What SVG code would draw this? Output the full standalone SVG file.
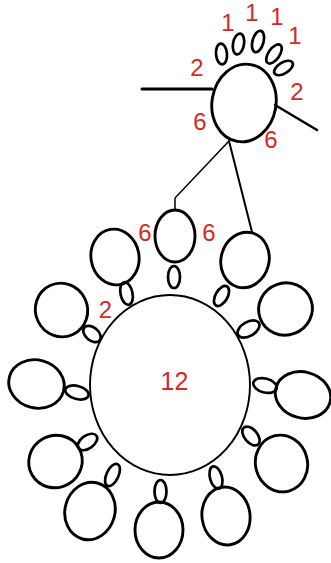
<svg xmlns="http://www.w3.org/2000/svg" width="331" height="563" viewBox="0 0 331 563">
<style>
.r{fill:none;stroke:#000;stroke-width:2.9}
.p{fill:none;stroke:#000;stroke-width:2.7}
.big{fill:none;stroke:#000;stroke-width:1.9}
.t{font-family:"Liberation Sans",Arial,sans-serif;font-size:24px;fill:#d42a22;text-anchor:middle}
.l{stroke:#000;fill:none;stroke-linecap:round}
</style>
<rect width="331" height="563" fill="#fff"/>
<g id="connectors">
<line class="l" x1="142" y1="89" x2="212" y2="89" stroke-width="3"/>
<line class="l" x1="275" y1="105" x2="317" y2="130" stroke-width="2.5"/>
<polyline class="l" points="229,141 175,198 175,209" stroke-width="1.5"/>
<line class="l" x1="229" y1="141" x2="252" y2="232" stroke-width="2"/>
</g>
<g id="top-ring">
<ellipse class="r" cx="244" cy="103" rx="32" ry="39" transform="rotate(10 244 103)"/>
<ellipse class="p" cx="221.5" cy="54" rx="5.5" ry="10.5" transform="rotate(-5 221.5 54)"/>
<ellipse class="p" cx="238.5" cy="44" rx="5.5" ry="10.5" transform="rotate(10 238.5 44)"/>
<ellipse class="p" cx="258" cy="41.5" rx="5.5" ry="11" transform="rotate(15 258 41.5)"/>
<ellipse class="p" cx="274" cy="54" rx="5.5" ry="11" transform="rotate(35 274 54)"/>
<ellipse class="p" cx="283.5" cy="68" rx="5.5" ry="10.5" transform="rotate(58 283.5 68)"/>
<text class="t" x="228" y="31">1</text>
<text class="t" x="252" y="21">1</text>
<text class="t" x="277" y="25">1</text>
<text class="t" x="295" y="44">1</text>
<text class="t" x="197" y="76">2</text>
<text class="t" x="297" y="100">2</text>
<text class="t" x="200" y="130">6</text>
<text class="t" x="271" y="148">6</text>
</g>
<g id="center-ring">
<ellipse class="big" cx="170" cy="385" rx="80" ry="90"/>
<text class="t" x="174.5" y="390" style="font-size:25px">12</text>
</g>
<g id="ring-1">
<ellipse class="r" cx="175" cy="236" rx="20" ry="26"/>
<ellipse class="p" cx="174" cy="277" rx="6" ry="11"/>
<text class="t" x="145" y="241">6</text>
<text class="t" x="209" y="241">6</text>
</g>
<g id="ring-2">
<ellipse class="r" cx="245" cy="260" rx="24" ry="28" transform="rotate(15 245 260)"/>
<ellipse class="p" cx="221.5" cy="296" rx="6" ry="11" transform="rotate(30 221.5 296)"/>
</g>
<g id="ring-3">
<ellipse class="r" cx="285.5" cy="309" rx="27" ry="26" transform="rotate(-20 285.5 309)"/>
<ellipse class="p" cx="248.5" cy="329" rx="12" ry="7" transform="rotate(-30 248.5 329)"/>
</g>
<g id="ring-4">
<ellipse class="r" cx="303" cy="395" rx="28" ry="23" transform="rotate(15 303 395)"/>
<ellipse class="p" cx="265" cy="385.5" rx="12" ry="7" transform="rotate(15 265 385.5)"/>
</g>
<g id="ring-5">
<ellipse class="r" cx="281.5" cy="463.5" rx="26" ry="28.5" transform="rotate(-15 281.5 463.5)"/>
<ellipse class="p" cx="251" cy="436" rx="11" ry="6.5" transform="rotate(50 251 436)"/>
</g>
<g id="ring-6">
<ellipse class="r" cx="226" cy="516" rx="24" ry="29" transform="rotate(-8 226 516)"/>
<ellipse class="p" cx="216" cy="477.5" rx="6" ry="11.5" transform="rotate(-15 216 477.5)"/>
</g>
<g id="ring-7">
<ellipse class="r" cx="159" cy="530" rx="24" ry="28"/>
<ellipse class="p" cx="160.5" cy="491.5" rx="6" ry="11.5"/>
</g>
<g id="ring-8">
<ellipse class="r" cx="90" cy="511" rx="25" ry="29" transform="rotate(15 90 511)"/>
<ellipse class="p" cx="112.5" cy="475" rx="6" ry="12" transform="rotate(25 112.5 475)"/>
</g>
<g id="ring-9">
<ellipse class="r" cx="55.5" cy="461.5" rx="27" ry="26" transform="rotate(-30 55.5 461.5)"/>
<ellipse class="p" cx="87.5" cy="442" rx="11" ry="6.5" transform="rotate(-35 87.5 442)"/>
</g>
<g id="ring-10">
<ellipse class="r" cx="36.5" cy="384" rx="28" ry="24" transform="rotate(15 36.5 384)"/>
<ellipse class="p" cx="77" cy="392.5" rx="12" ry="6.5" transform="rotate(15 77 392.5)"/>
</g>
<g id="ring-11">
<ellipse class="r" cx="61.5" cy="310" rx="26" ry="27" transform="rotate(-25 61.5 310)"/>
<ellipse class="p" cx="92" cy="334" rx="10" ry="6.5" transform="rotate(40 92 334)"/>
<text class="t" x="105.5" y="318">2</text>
</g>
<g id="ring-12">
<ellipse class="r" cx="115" cy="257" rx="24" ry="28" transform="rotate(-10 115 257)"/>
<ellipse class="p" cx="126.5" cy="293.5" rx="6" ry="11.5" transform="rotate(-12 126.5 293.5)"/>
</g>
</svg>
